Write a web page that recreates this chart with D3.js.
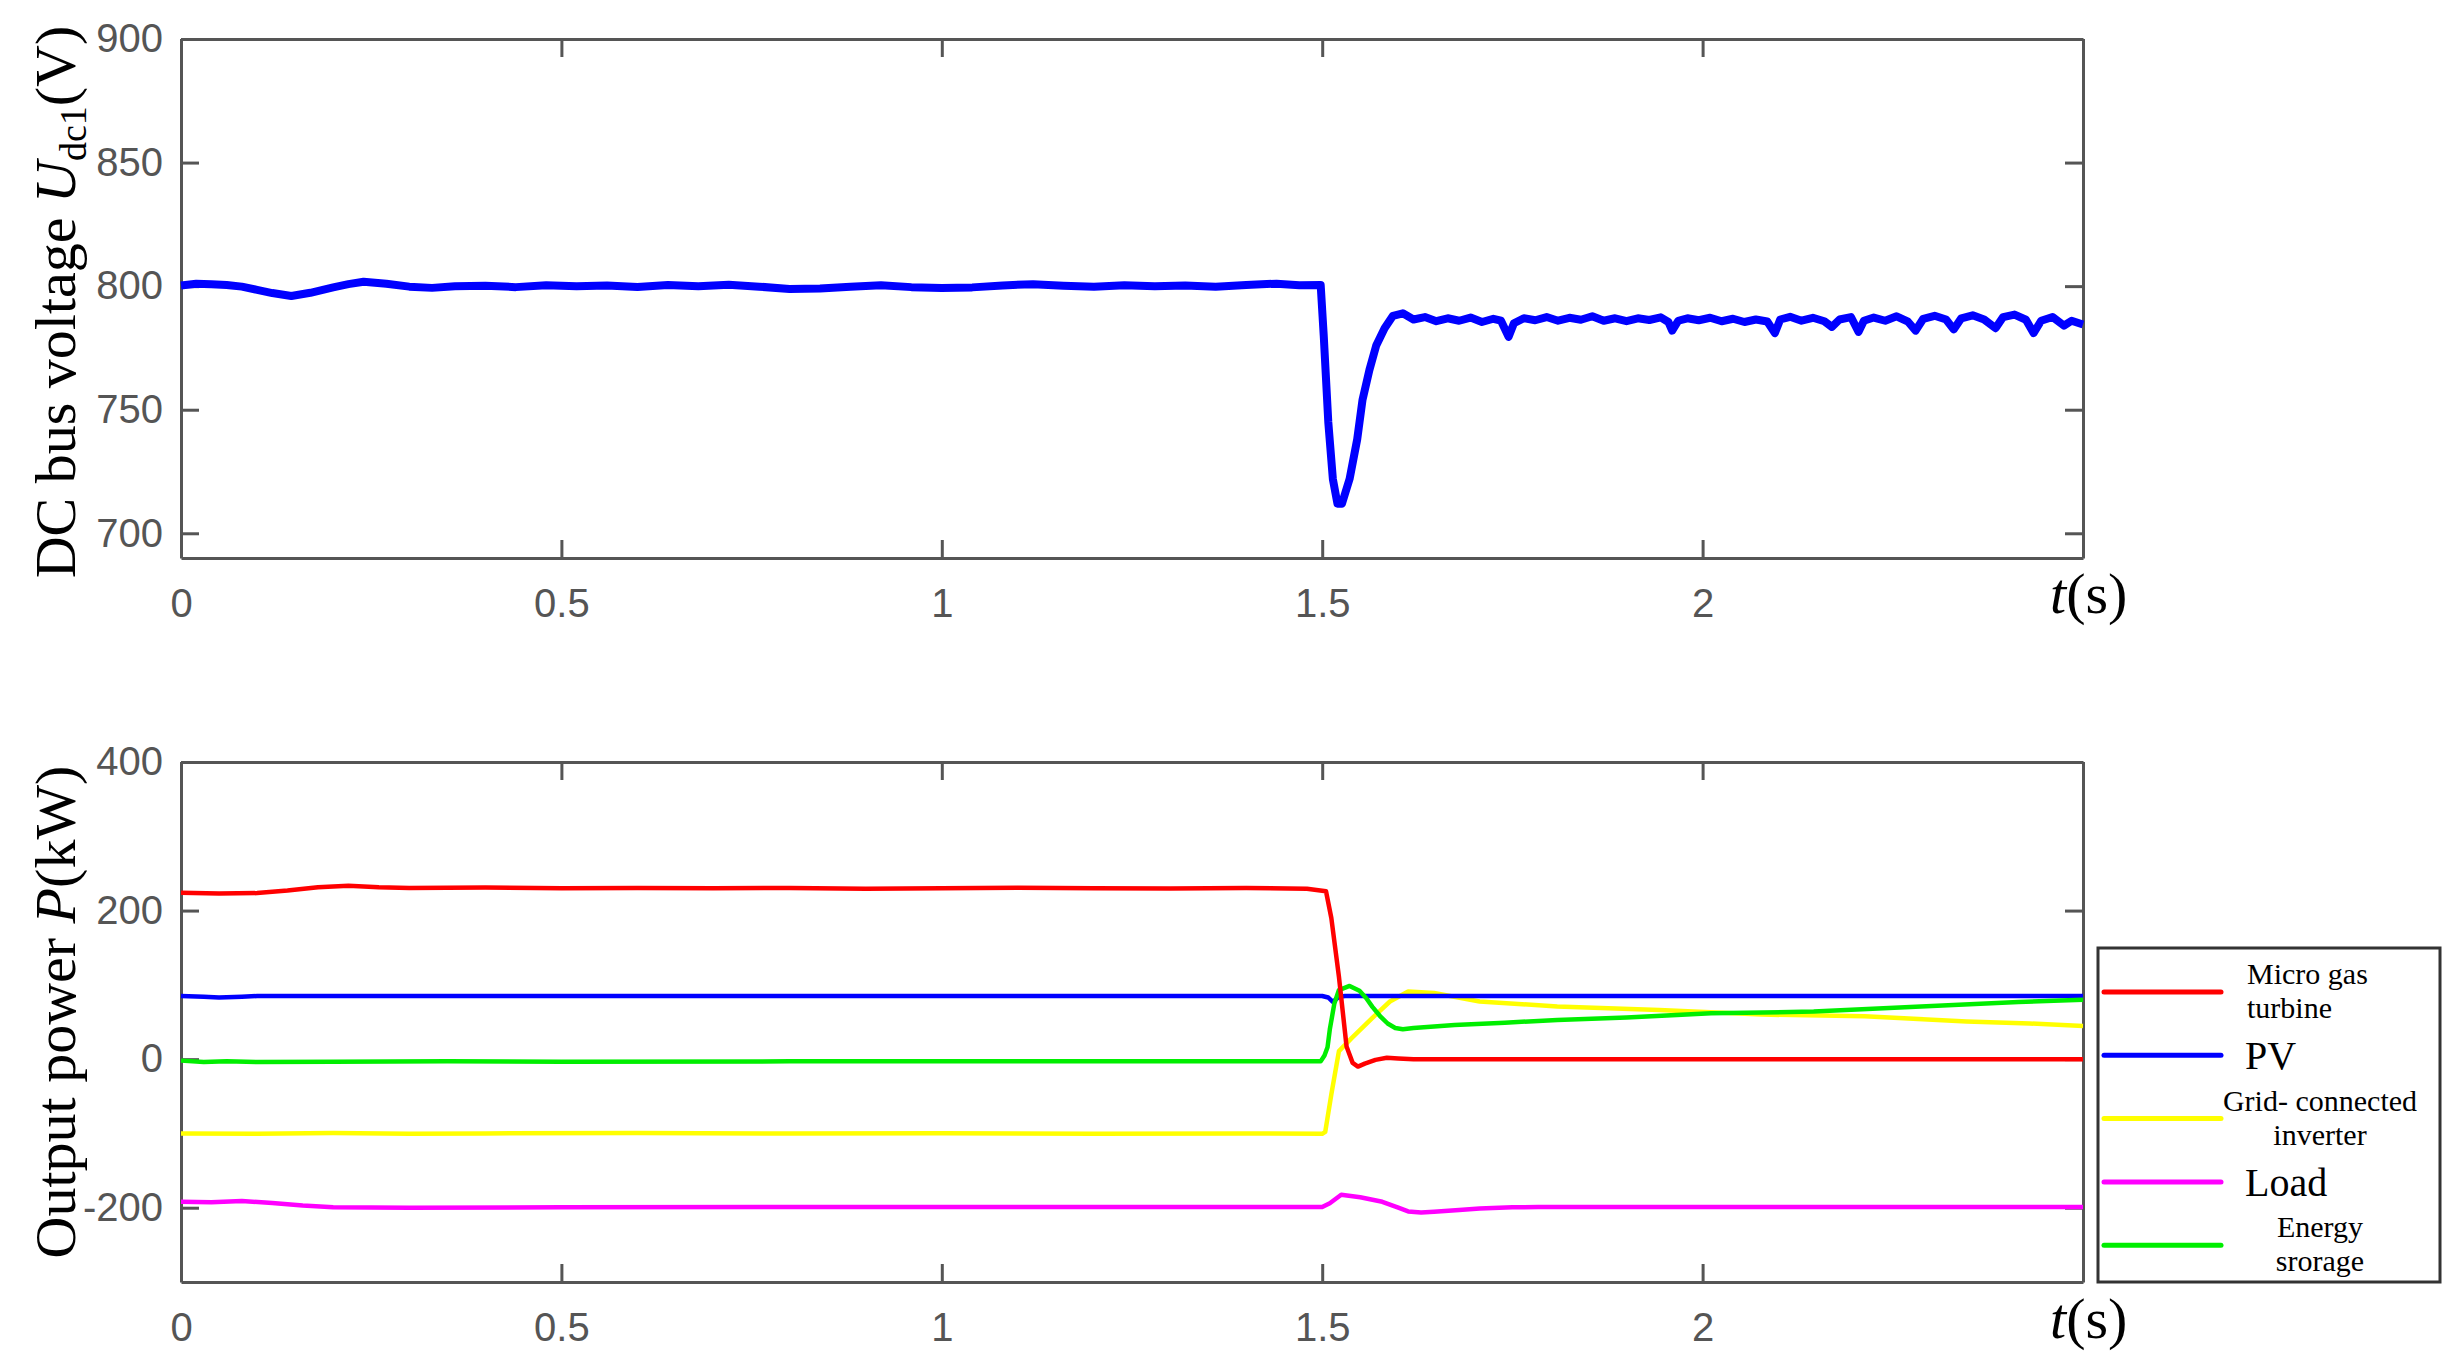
<!DOCTYPE html>
<html>
<head>
<meta charset="utf-8">
<script src="https://cdn.jsdelivr.net/npm/d3@7"></script>
<style>
  body { margin: 0; background: #fff; }
  .tick text { font-family: "Liberation Sans", Arial, sans-serif; font-size: 40px; fill: #555; }
  .axis path, .axis line { stroke: #555; stroke-width: 3; }
  .ylabel, .tlabel, .legend text { font-family: "Liberation Serif", "Times New Roman", serif; fill: #000; }
</style>
</head>
<body>
<div class="chart"></div>
<script>
// DC bus voltage (top panel)
var tVolt = [0, 0.02, 0.04, 0.06, 0.08, 0.10, 0.12, 0.145, 0.17, 0.20, 0.22, 0.24, 0.27, 0.30, 0.33, 0.36, 0.40, 0.44, 0.48, 0.52,
  0.56, 0.60, 0.64, 0.68, 0.72, 0.76, 0.80, 0.84, 0.88, 0.92, 0.96, 1.00, 1.04, 1.08, 1.12, 1.16, 1.20, 1.24, 1.28, 1.32,
  1.36, 1.40, 1.44, 1.47, 1.498, 1.502, 1.508, 1.514, 1.520, 1.526, 1.536, 1.546, 1.553, 1.562, 1.571, 1.582, 1.593, 1.606,
  1.62, 1.635, 1.65, 1.665, 1.68, 1.695, 1.71, 1.725, 1.735, 1.745, 1.752, 1.765, 1.78, 1.795, 1.81, 1.825, 1.84, 1.855,
  1.87, 1.885, 1.9, 1.915, 1.93, 1.945, 1.955, 1.96, 1.968, 1.98, 1.995, 2.01, 2.025, 2.04, 2.055, 2.07, 2.085, 2.095,
  2.102, 2.115, 2.13, 2.145, 2.16, 2.17, 2.18, 2.195, 2.205, 2.212, 2.225, 2.24, 2.255, 2.27, 2.28, 2.29, 2.305, 2.32,
  2.33, 2.34, 2.355, 2.37, 2.385, 2.395, 2.41, 2.425, 2.435, 2.445, 2.46, 2.475, 2.485, 2.5];
var uVolt = [800.3, 801, 800.8, 800.5, 799.8, 798.5, 797.2, 796, 797.3, 799.5, 800.8, 801.8, 801, 799.8, 799.3, 800, 800.2, 799.6, 800.4, 800,
  800.3, 799.7, 800.5, 800, 800.6, 799.8, 798.8, 799, 799.8, 800.4, 799.6, 799.2, 799.5, 800.3, 800.8, 800.2, 799.8, 800.4, 800, 800.3,
  799.8, 800.5, 801, 800.4, 800.5, 780, 745, 722, 712, 712, 722, 738, 754, 766, 776, 783, 788, 789,
  786.5, 787.5, 785.8, 787, 786, 787.3, 785.5, 786.8, 786, 779.5, 785, 787, 786.2, 787.5, 786, 787.2, 786.4, 787.8,
  786, 787, 785.8, 787, 786.3, 787.4, 785.5, 782, 786, 787, 786.2, 787.2, 785.8, 786.8, 785.5, 786.5, 785.7, 781,
  786.5, 787.6, 786, 787.2, 785.8, 783.5, 786.5, 787.5, 781.5, 786, 787.3, 786, 787.8, 785.6, 782, 786.8, 788, 786.5,
  782.5, 787, 788.2, 786.5, 783, 787.5, 788.5, 786.4, 781, 786, 787.5, 784, 786, 784.5];

// Output power (bottom panel)
var tMgt = [0, 0.05, 0.10, 0.14, 0.18, 0.22, 0.26, 0.30, 0.40, 0.50, 0.60, 0.70, 0.80, 0.90, 1.00, 1.10, 1.20, 1.30, 1.40, 1.48,
  1.505, 1.512, 1.522, 1.532, 1.540, 1.547, 1.556, 1.57, 1.585, 1.60, 1.62, 1.8, 2.0, 2.2, 2.4, 2.5];
var pMgt = [224, 223, 223.5, 227, 231.5, 233.5, 231.5, 230.5, 231, 230, 230.5, 230, 230.5, 229.5, 230, 230.8, 230, 229.8, 230.3, 229.5,
  226, 190, 111, 17, -5, -10, -6, -1, 1.8, 1, 0, 0, 0, 0, 0, 0];

var tPv = [0, 0.03, 0.05, 0.08, 0.10, 1.50, 1.508, 1.514, 1.522, 1.53, 2.5];
var pPv = [85, 84, 83, 84, 85, 85, 83, 77, 84, 85, 85];

var tGrid = [0, 0.1, 0.2, 0.3, 0.4, 0.6, 0.8, 1.0, 1.2, 1.4, 1.5, 1.504, 1.512, 1.522, 1.539, 1.566, 1.589, 1.613, 1.647, 1.707,
  1.809, 1.943, 2.078, 2.213, 2.347, 2.43, 2.5];
var pGrid = [-100, -100.5, -99.5, -100.5, -100, -99.5, -100.2, -99.8, -100.4, -100, -100.5, -98, -47.5, 10.8, 28.7, 55.6, 77.6, 91, 89, 77.6,
  71, 66, 60, 57.6, 50.8, 48, 44.5];

var tLoad = [0, 0.04, 0.08, 0.12, 0.16, 0.2, 0.3, 0.5, 0.8, 1.0, 1.2, 1.4, 1.5, 1.51, 1.525, 1.55, 1.579, 1.6, 1.613, 1.63,
  1.647, 1.68, 1.707, 1.75, 1.784, 1.9, 2.1, 2.5];
var pLoad = [-192, -192.5, -191, -193.5, -197, -199.5, -200, -199.5, -199, -199, -199, -199, -199, -194, -182.5, -186, -192, -200, -205, -206.5,
  -205.5, -203, -201, -199.5, -199, -199, -199, -199];

var tStore = [0, 0.03, 0.06, 0.1, 0.2, 0.35, 0.5, 0.8, 1.0, 1.2, 1.498, 1.503, 1.507, 1.51, 1.516, 1.522, 1.536, 1.549, 1.558, 1.566,
  1.576, 1.586, 1.596, 1.606, 1.62, 1.674, 1.74, 1.809, 1.9, 2.011, 2.146, 2.28, 2.415, 2.5];
var pStore = [-2, -4, -3, -4, -3.5, -3, -3.5, -3, -3, -3, -3, 5, 16, 40, 75, 93, 98.5, 92, 82, 70.4,
  58, 48, 42, 40.3, 42, 46, 49, 52.8, 56, 61.7, 64, 70.4, 77, 80];

var legendNames = [["Micro gas", "turbine"], ["PV"], ["Grid- connected", "inverter"], ["Load"], ["Energy", "srorage"]];
var seriesColors = ["#ff0000", "#0000ff", "#ffff00", "#ff00ff", "#00ee00"];

var xTicks = [0, 0.5, 1, 1.5, 2, 2.5];
var voltTicks = [700, 750, 800, 850, 900];
var powerTicks = [-200, 0, 200, 400];

// Chart setup
var svgWidth = 2463;
var svgHeight = 1368;

var svg = d3.select(".chart").append("svg")
  .attr("width", svgWidth)
  .attr("height", svgHeight);

var xLinearScale = d3.scaleLinear().domain([0, 2.5]).range([181, 2083]);
var yVolt = d3.scaleLinear().domain([690, 900]).range([558, 39]);
var yPower = d3.scaleLinear().domain([-300, 400]).range([1282, 762]);

// draws a boxed panel with inward ticks on all four sides
function drawPanel(yScale, yTicks) {
  var top = yScale.range()[1], bottom = yScale.range()[0];
  var xFmt = d => d === 2.5 ? "" : String(d);

  svg.append("g").attr("class", "axis")
    .attr("transform", `translate(0, ${bottom})`)
    .call(d3.axisBottom(xLinearScale).tickValues(xTicks).tickSizeInner(-18).tickSizeOuter(0).tickPadding(31).tickFormat(xFmt));
  svg.append("g").attr("class", "axis")
    .attr("transform", `translate(0, ${top})`)
    .call(d3.axisTop(xLinearScale).tickValues(xTicks).tickSizeInner(-18).tickSizeOuter(0).tickFormat(""));
  svg.append("g").attr("class", "axis")
    .attr("transform", `translate(181, 0)`)
    .call(d3.axisLeft(yScale).tickValues(yTicks).tickSizeInner(-18).tickSizeOuter(0).tickPadding(18).tickFormat(d => String(d)));
  svg.append("g").attr("class", "axis")
    .attr("transform", `translate(2083, 0)`)
    .call(d3.axisRight(yScale).tickValues(yTicks).tickSizeInner(-18).tickSizeOuter(0).tickFormat(""));
  svg.selectAll(".axis .domain").attr("stroke", "#555");
}

drawPanel(yVolt, voltTicks);
drawPanel(yPower, powerTicks);

// top panel line
var voltLine = d3.line()
  .x((d, i) => xLinearScale(tVolt[i]))
  .y(d => yVolt(d));

svg.append("path")
  .datum(uVolt)
  .attr("d", voltLine)
  .attr("fill", "none")
  .attr("stroke", "#0000ff")
  .attr("stroke-width", 8)
  .attr("stroke-linejoin", "round");

// bottom panel lines
var powerSeries = [
  { t: tMgt, p: pMgt, c: 0 },
  { t: tPv, p: pPv, c: 1 },
  { t: tGrid, p: pGrid, c: 2 },
  { t: tLoad, p: pLoad, c: 3 },
  { t: tStore, p: pStore, c: 4 }
];
// draw order: yellow, magenta, blue, green, red
var drawOrder = [2, 3, 1, 4, 0];

drawOrder.forEach(function(k) {
  var s = powerSeries[k];
  var line = d3.line()
    .x((d, i) => xLinearScale(s.t[i]))
    .y(d => yPower(d));
  svg.append("path")
    .datum(s.p)
    .attr("d", line)
    .attr("fill", "none")
    .attr("stroke", seriesColors[s.c])
    .attr("stroke-width", 4.5)
    .attr("stroke-linejoin", "round");
});

// axis labels
var topLabel = svg.append("text")
  .attr("class", "ylabel")
  .attr("transform", "translate(75, 302) rotate(-90)")
  .attr("text-anchor", "middle")
  .attr("font-size", 58);
topLabel.append("tspan").text("DC bus voltage ");
topLabel.append("tspan").attr("font-style", "italic").text("U");
topLabel.append("tspan").attr("font-size", 38).attr("dy", "0.3em").text("dc1");
topLabel.append("tspan").attr("dy", "-0.2em").text("(V)");

var botLabel = svg.append("text")
  .attr("class", "ylabel")
  .attr("transform", "translate(75, 1012) rotate(-90)")
  .attr("text-anchor", "middle")
  .attr("font-size", 58);
botLabel.append("tspan").text("Output power ");
botLabel.append("tspan").attr("font-style", "italic").text("P");
botLabel.append("tspan").text("(kW)");

[613, 1338].forEach(function(yb) {
  var tl = svg.append("text")
    .attr("class", "tlabel")
    .attr("x", 2050)
    .attr("y", yb)
    .attr("font-size", 58);
  tl.append("tspan").attr("font-style", "italic").text("t");
  tl.append("tspan").text("(s)");
});

// legend
var legend = svg.append("g").attr("class", "legend");
legend.append("rect")
  .attr("x", 2098).attr("y", 948)
  .attr("width", 342).attr("height", 334)
  .attr("fill", "#fff")
  .attr("stroke", "#333")
  .attr("stroke-width", 3);

legendNames.forEach(function(lines, i) {
  var ry = 992 + i * 63.3;
  legend.append("line")
    .attr("x1", 2104).attr("x2", 2221)
    .attr("y1", ry).attr("y2", ry)
    .attr("stroke", seriesColors[i])
    .attr("stroke-width", 5)
    .attr("stroke-linecap", "round");
  if (lines.length === 1) {
    legend.append("text")
      .attr("x", 2245).attr("y", ry + 14)
      .attr("font-size", 40)
      .text(lines[0]);
  } else {
    lines.forEach(function(txt, j) {
      legend.append("text")
        .attr("x", i === 0 ? 2247 : 2320)
        .attr("y", ry + (j === 0 ? -8 : 26))
        .attr("text-anchor", i === 0 ? "start" : "middle")
        .attr("font-size", 30)
        .text(txt);
    });
  }
});
</script>
</body>
</html>
